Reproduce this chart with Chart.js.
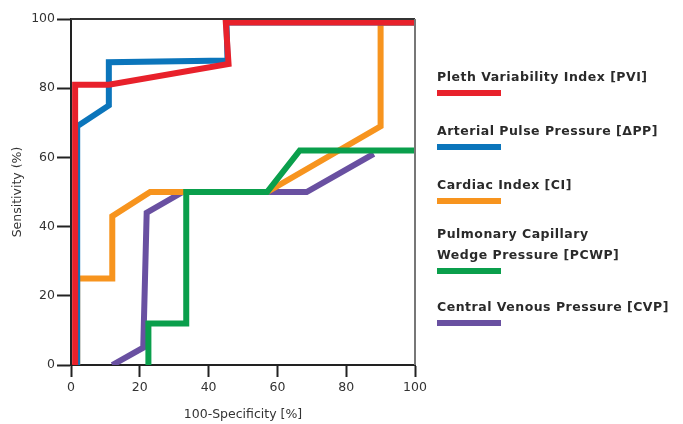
<!DOCTYPE html>
<html>
<head>
<meta charset="utf-8">
<script src="https://cdn.jsdelivr.net/npm/chart.js@4"></script>
<style>
  html, body { margin: 0; padding: 0; background: #fff; overflow: hidden; }
  #wrap { position: relative; width: 683px; height: 424px; }
  #rocChart { position: absolute; left: 0; top: 0; }
  .legend { position: absolute; left: 437px; top: 0; font-family: "DejaVu Sans", sans-serif; font-size: 12.5px; font-weight: bold; letter-spacing: 0.5px; color: #2a2a2a; white-space: nowrap; }
  .item { position: absolute; left: 0; }
  .item span { display: block; line-height: 21px; }
  .swatch { width: 64px; height: 6px; margin-top: 3px; }
</style>
</head>
<body>
<div id="wrap">
  <canvas id="rocChart" width="683" height="424"></canvas>
  <div class="legend" id="legend"></div>
</div>
<script>
// ROC curves, x = 100-specificity (%), y = sensitivity (%)
const pviX  = [1.2, 1.2, 11, 45.8, 45, 100];
const pviY  = [0, 81, 81, 87, 99, 99];
const appX  = [1.8, 1.8, 11, 11, 45.5, 45.2, 100];
const appY  = [0, 69, 75, 87.5, 88, 99, 99];
const ciX   = [1.8, 1.8, 12, 12, 23, 57, 90, 90, 100];
const ciY   = [0, 25, 25, 43, 50, 50, 69, 99, 99];
const pcwpX = [22.5, 22.5, 33.5, 33.5, 57, 66.5, 100];
const pcwpY = [0, 12, 12, 50, 50, 62, 62];
const cvpX  = [12, 21, 22, 32.5, 68.5, 88];
const cvpY  = [0, 5, 44, 50, 50, 61];

const xTicks = [0, 20, 40, 60, 80, 100];
const yTicks = [0, 20, 40, 60, 80, 100];

const legendNames = [
    ['Pleth Variability Index [PVI]'],
    ['Arterial Pulse Pressure [\u0394PP]'],
    ['Cardiac Index [CI]'],
    ['Pulmonary Capillary', 'Wedge Pressure [PCWP]'],
    ['Central Venous Pressure [CVP]']
];
const colors = ['#e8212b', '#0b75bb', '#f7941e', '#0a9f4c', '#6950a1'];
const legendTops = [66, 120, 174, 223, 296];

function toPoints(xs, ys) {
    return xs.map((x, i) => ({ x: x, y: ys[i] }));
}

// draw order: first dataset ends up on top
const series = [
    { data: toPoints(pviX, pviY), color: colors[0] },
    { data: toPoints(appX, appY), color: colors[1] },
    { data: toPoints(pcwpX, pcwpY), color: colors[3] },
    { data: toPoints(ciX, ciY), color: colors[2] },
    { data: toPoints(cvpX, cvpY), color: colors[4] }
];

// top and right edges of the plot box
const frame = {
    id: 'frame',
    afterDatasetsDraw(chart) {
        const ctx = chart.ctx;
        const a = chart.chartArea;
        ctx.save();
        ctx.lineWidth = 2;
        ctx.strokeStyle = '#333';
        ctx.beginPath();
        ctx.moveTo(a.left, a.top);
        ctx.lineTo(a.right, a.top);
        ctx.stroke();
        ctx.strokeStyle = '#777';
        ctx.beginPath();
        ctx.moveTo(a.right, a.top);
        ctx.lineTo(a.right, a.bottom);
        ctx.stroke();
        ctx.restore();
    }
};

Chart.defaults.font.family = '"DejaVu Sans", sans-serif';
Chart.defaults.color = '#333';

new Chart(document.getElementById('rocChart'), {
    type: 'scatter',
    data: {
        datasets: series.map(s => ({
            data: s.data,
            showLine: true,
            borderColor: s.color,
            backgroundColor: s.color,
            borderWidth: 6,
            borderJoinStyle: 'miter',
            pointRadius: 0,
            tension: 0
        }))
    },
    options: {
        responsive: false,
        animation: false,
        layout: { padding: { top: 19, right: 268, left: 0, bottom: 0 } },
        plugins: { legend: { display: false }, tooltip: { enabled: false } },
        scales: {
            x: {
                type: 'linear',
                min: 0,
                max: 100,
                afterFit: scale => { scale.height = 59; },
                afterBuildTicks: scale => { scale.ticks = xTicks.map(v => ({ value: v })); },
                border: { color: '#222', width: 2 },
                grid: { drawOnChartArea: false, tickLength: 12, tickColor: '#222', tickWidth: 2 },
                ticks: { font: { size: 12.5 }, padding: 3 },
                title: { display: true, text: '100-Specificity [%]', font: { size: 12.5 }, padding: { top: 0, bottom: 2 } }
            },
            y: {
                type: 'linear',
                min: 0,
                max: 100,
                afterFit: scale => { scale.width = 71; },
                afterBuildTicks: scale => { scale.ticks = yTicks.map(v => ({ value: v })); },
                border: { color: '#222', width: 2 },
                grid: { drawOnChartArea: false, tickLength: 14, tickColor: '#222', tickWidth: 2 },
                ticks: { font: { size: 12.5 }, padding: 2 },
                title: { display: true, text: 'Sensitivity (%)', font: { size: 12.5 }, padding: { top: 10, bottom: 0 } }
            }
        }
    },
    plugins: [frame]
});

// legend: name above a colour bar
const legendBox = document.getElementById('legend');
legendNames.forEach((lines, i) => {
    const item = document.createElement('div');
    item.className = 'item';
    item.style.top = legendTops[i] + 'px';
    lines.forEach(t => {
        const span = document.createElement('span');
        span.textContent = t;
        item.appendChild(span);
    });
    const sw = document.createElement('div');
    sw.className = 'swatch';
    sw.style.background = colors[i];
    item.appendChild(sw);
    legendBox.appendChild(item);
});
</script>
</body>
</html>
